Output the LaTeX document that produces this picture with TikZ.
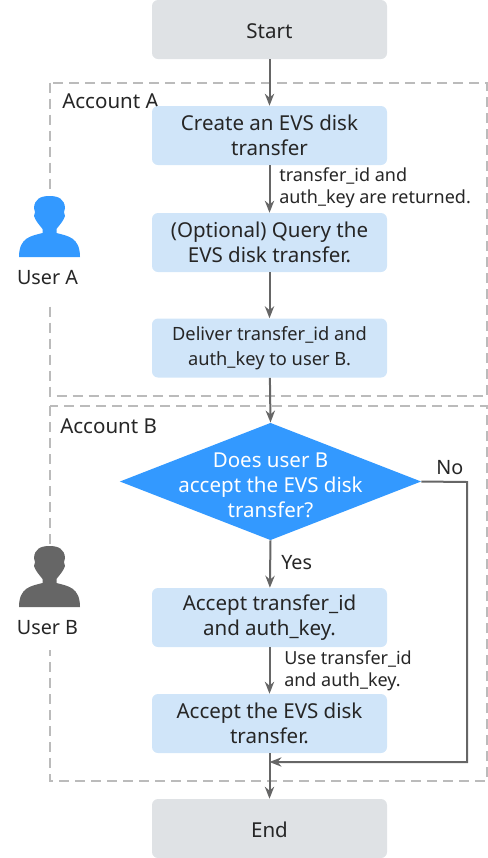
\documentclass[tikz,border=0pt]{standalone}
\usepackage{fontspec}
\setmainfont{Noto Sans}
\usetikzlibrary{arrows.meta,shapes.geometric}

\definecolor{boxblue}{HTML}{D0E5F9}
\definecolor{boxgray}{HTML}{DFE2E5}
\definecolor{deciblue}{HTML}{3399FF}
\definecolor{linegray}{HTML}{666666}
\definecolor{dashgray}{HTML}{BBBBBB}
\definecolor{textdark}{HTML}{262626}

\tikzset{
  bigtext/.style={font=\fontsize{15.4}{18.75}\selectfont, text=textdark, align=center},
  midtext/.style={bigtext, font=\fontsize{14.8}{16}\selectfont},
  smalltext/.style={font=\fontsize{13.5}{16.5}\selectfont, text=textdark, align=left, inner sep=0pt},
  stepbox/.style={bigtext, fill=boxblue, rounded corners=4.5pt, minimum width=176.25pt, minimum height=44.25pt, inner sep=0pt, execute at begin node=\rule{0pt}{14pt}},
  endbox/.style={stepbox, fill=boxgray},
  flow/.style={draw=linegray, line width=1.5pt, -{Stealth[length=9pt,width=7pt]}},
  account/.style={draw=dashgray, line width=1.5pt, dash pattern=on 7.5pt off 4.5pt},
  user/.pic={
    \fill (0,0) .. controls (9,0) and (15,3) .. (15.5,12) -- (14.5,16) -- (15.5,20)
      .. controls (14,25) and (10,29) .. (7,33) -- (7,37)
      .. controls (18,40) and (30.5,41) .. (30.5,61) -- (-30.5,61)
      .. controls (-30.5,41) and (-18,40) .. (-7,37) -- (-7,33)
      .. controls (-10,29) and (-14,25) .. (-15.5,20) -- (-14.5,16) -- (-15.5,12)
      .. controls (-15,3) and (-9,0) .. (0,0) -- cycle;
  }
}

\begin{document}
\begin{tikzpicture}[x=0.75pt, y=-0.75pt]
\useasboundingbox (0,0) rectangle (488,858);

% accounts
\draw [account] (50,82.5) rectangle (487,396);
\draw [account] (50,406) rectangle (487,781);
\fill [white] (40,195) rectangle (60,302);
\fill [white] (40,546) rectangle (60,650);

% users
\pic [deciblue] at (49.5,196) {user};
\pic [linegray] at (49.5,546) {user};
\node [midtext] (usera) at (47.5,277.5) {User A};
\node [midtext] (userb) at (47.5,627.5) {User B};
\node [bigtext, anchor=west, inner sep=0pt] (accounta) at (62,101) {Account A};
\node [bigtext, anchor=west, inner sep=0pt] (accountb) at (60,426) {Account B};

% steps
\node [endbox] (start) at (269.5,29.5) {Start};
\node [stepbox] (create) at (269.5,135.5) {Create an EVS disk\\transfer};
\node [stepbox] (query) at (269.5,242.5) {(Optional) Query the\\EVS disk transfer.};
\node [stepbox, font=\fontsize{13.7}{18.75}\selectfont] (deliver) at (269.5,348) {Deliver transfer\_id and\\auth\_key to user B.};
\node [diamond, fill=deciblue, aspect=2.57, minimum width=226pt, minimum height=88pt, inner sep=0pt] (check) at (270.5,481.5) {};
\node [bigtext, text=white] (checktext) at (270.5,485.5) {Does user B\\accept the EVS disk\\transfer?};
\node [stepbox] (accepta) at (269.5,617.5) {Accept transfer\_id\\and auth\_key.};
\node [stepbox] (acceptb) at (269.5,723.5) {Accept the EVS disk\\transfer.};
\node [endbox] (end) at (269.5,828.5) {End};

% connectors
\coordinate (join) at (269.5,762);
\coordinate (corner1) at (467,482);
\coordinate (corner2) at (467,762);
\draw [flow] (start) -- (create);
\draw [flow] (create) -- (query);
\draw [flow] (query) -- (deliver);
\draw [flow] (deliver) -- (check.north);
\draw [flow] (check.south) -- (accepta);
\draw [flow] (accepta) -- (acceptb);
\draw [flow] (acceptb) -- (end);
\draw [flow] (check.east) -- (corner1) -- (corner2) -- (join);

% labels
\node [smalltext, anchor=west] (returned) at (279,188) {transfer\_id and\\auth\_key are returned.};
\node [smalltext, anchor=west] (use) at (284,670.5) {Use transfer\_id\\and auth\_key.};
\node [midtext, anchor=west, inner sep=0pt] (yes) at (281,562.5) {Yes};
\node [midtext, anchor=west, inner sep=0pt] (no) at (436,467.5) {No};
\end{tikzpicture}
\end{document}
